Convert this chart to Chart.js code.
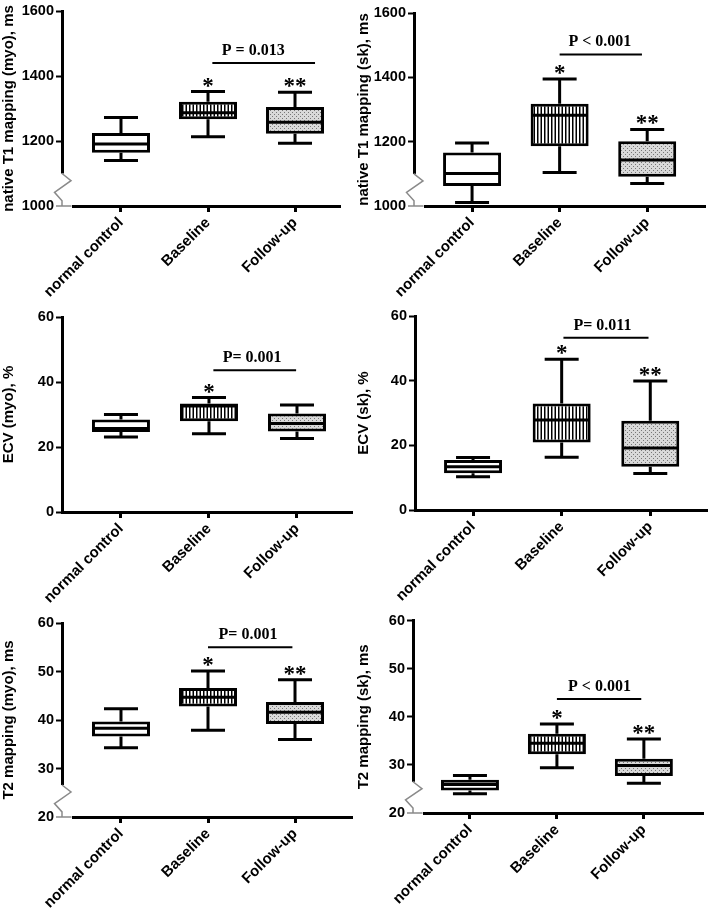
<!DOCTYPE html>
<html>
<head>
<meta charset="utf-8">
<script src="https://cdn.jsdelivr.net/npm/chart.js@4.4.0/dist/chart.umd.min.js"></script>
<style>
  html, body { margin: 0; padding: 0; background: #fff; }
  #wrap { position: relative; width: 709px; height: 908px; overflow: hidden; }
  .cell { position: absolute; }
</style>
</head>
<body>
<div id="wrap"></div>
<script>
// categories shared by all six panels
const categories = ['normal control', 'Baseline', 'Follow-up'];

// box stats per group: [min, q1, median, q3, max]
const t1MyoStats = [[1140, 1164, 1191, 1225, 1272], [1213, 1267, 1287, 1321, 1352], [1193, 1222, 1258, 1305, 1350]];
const t1SkStats = [[1011, 1062, 1101, 1166, 1196], [1104, 1186, 1282, 1318, 1395], [1070, 1091, 1143, 1201, 1238]];
const ecvMyoStats = [[23.1, 24.6, 25.7, 28.5, 30.0], [24.1, 27.9, 32.6, 33.4, 35.2], [22.6, 24.8, 27.2, 30.3, 32.9]];
const ecvSkStats = [[10.3, 11.4, 13.4, 15.5, 16.2], [16.3, 20.9, 27.8, 32.9, 46.6], [11.3, 13.4, 19.2, 27.6, 39.9]];
const t2MyoStats = [[34.3, 36.6, 38.3, 39.7, 42.3], [37.9, 42.8, 44.7, 46.6, 50.1], [36.0, 39.2, 41.6, 43.7, 48.3]];
const t2SkStats = [[24.0, 24.7, 25.95, 26.9, 27.8], [29.4, 32.2, 34.5, 36.5, 38.5], [26.2, 27.7, 29.9, 31.3, 35.4]];

// axis titles and tick ranges [min, max, step]
const yTitles = ['native T1 mapping (myo), ms', 'native T1 mapping (sk), ms', 'ECV (myo), %', 'ECV (sk), %', 'T2 mapping (myo), ms', 'T2 mapping (sk), ms'];
const yRanges = [[1000, 1600, 200], [1000, 1600, 200], [0, 60, 20], [0, 60, 20], [20, 60, 10], [20, 60, 10]];
const yBreaks = [1100, 1100, null, null, 26.6, 26.5]; // value where the axis break starts

// comparison brackets (Baseline vs Follow-up)
const pLabels = ['P = 0.013', 'P < 0.001', 'P= 0.001', 'P= 0.011', 'P= 0.001', 'P < 0.001'];
const pLevels = [1440, 1471, 43.6, 53.3, 55.0, 43.7];
const pSpans = [[2.05, 3.23], [2.0, 2.94], [2.05, 2.99], [2.02, 2.98], [2.0, 2.97], [2.0, 2.97]];
const pTextX = [2.52, 2.46, 2.49, 2.46, 2.46, 2.49];
const starMarks = [['', '*', '**'], ['', '*', '**'], ['', '*', ''], ['', '*', '**'], ['', '*', '**'], ['', '*', '**']];

const allStats = [t1MyoStats, t1SkStats, ecvMyoStats, ecvSkStats, t2MyoStats, t2SkStats];

// layout of each panel on the page (left, top, width, height) and its plot frame
const frames = [
  { box: [0, 0, 355, 300], yw: 62, top: 11, right: 15, xh: 94, xr: [0.322, 3.517] },
  { box: [355, 0, 354, 300], yw: 59, top: 13, right: 4, xh: 94, xr: [0.337, 3.66] },
  { box: [0, 300, 355, 310], yw: 62, top: 17, right: 3, xh: 98, xr: [0.33, 3.625] },
  { box: [355, 300, 354, 310], yw: 60, top: 16, right: 2, xh: 100, xr: [0.345, 3.64] },
  { box: [0, 610, 355, 298], yw: 62, top: 13, right: 3, xh: 91, xr: [0.322, 3.655] },
  { box: [355, 610, 354, 298], yw: 58, top: 10, right: 6, xh: 95, xr: [0.345, 3.68] },
];

const SANS = '"Liberation Sans", Arial, sans-serif';
const SERIF = '"Liberation Serif", "Times New Roman", serif';

function makePattern(w, h, paint) {
  const c = document.createElement('canvas'); c.width = w; c.height = h;
  const g = c.getContext('2d'); paint(g);
  return g.createPattern(c, 'repeat');
}
const stripes = makePattern(7, 8, (g) => {
  g.fillStyle = '#fff'; g.fillRect(0, 0, 7, 8);
  g.fillStyle = '#000'; g.fillRect(0, 0, 1.5, 8); g.fillRect(3.5, 0, 1.5, 8);
});
const dots = makePattern(4, 4, (g) => {
  g.fillStyle = '#d9d9d9'; g.fillRect(0, 0, 4, 4);
  g.fillStyle = '#777'; g.fillRect(0, 0, 1, 1); g.fillRect(2, 2, 1, 1);
});

const boxPlugin = {
  id: 'boxplot',
  beforeDatasetsDraw(chart) {
    const o = chart.options.plugins.boxplot;
    const { ctx } = chart, x = chart.scales.x, y = chart.scales.y;
    ctx.save();
    ctx.strokeStyle = '#000'; ctx.lineWidth = 3;
    o.stats.forEach((s, i) => {
      const cx = x.getPixelForValue(i + 1), hw = o.cap / 2;
      const yMin = y.getPixelForValue(s[0]), yMax = y.getPixelForValue(s[4]);
      ctx.beginPath();
      ctx.moveTo(cx, yMax); ctx.lineTo(cx, y.getPixelForValue(s[3]));
      ctx.moveTo(cx, y.getPixelForValue(s[1])); ctx.lineTo(cx, yMin);
      ctx.moveTo(cx - hw, yMax); ctx.lineTo(cx + hw, yMax);
      ctx.moveTo(cx - hw, yMin); ctx.lineTo(cx + hw, yMin);
      ctx.stroke();
    });
    ctx.restore();
  },
  afterDatasetsDraw(chart) {
    const o = chart.options.plugins.boxplot;
    const { ctx } = chart, x = chart.scales.x, y = chart.scales.y;
    const bars = chart.getDatasetMeta(0).data;
    ctx.save();
    // medians
    ctx.strokeStyle = '#000'; ctx.lineWidth = 3;
    o.stats.forEach((s, i) => {
      const cx = x.getPixelForValue(i + 1), hw = bars[i].width / 2 - 1.5, my = y.getPixelForValue(s[2]);
      ctx.beginPath(); ctx.moveTo(cx - hw, my); ctx.lineTo(cx + hw, my); ctx.stroke();
    });
    // axis break
    if (o.brk != null) {
      const L = chart.chartArea.left, B = chart.chartArea.bottom, T0 = y.getPixelForValue(o.brk), h = B - T0;
      ctx.fillStyle = '#fff';
      ctx.fillRect(L - 6.5, T0, 16.5, h + 2);
      ctx.strokeStyle = '#8a8a8a'; ctx.lineWidth = 1.5;
      ctx.beginPath();
      ctx.moveTo(L, T0); ctx.lineTo(L + 9, T0 + 0.22 * h); ctx.lineTo(L - 7.5, T0 + 0.58 * h);
      ctx.lineTo(L, T0 + 0.84 * h); ctx.lineTo(L, B); ctx.lineTo(L + 9.5, B);
      ctx.moveTo(L - 6, B); ctx.lineTo(L, B);
      ctx.stroke();
    }
    // bracket + P value
    const by = y.getPixelForValue(o.pLevel);
    ctx.strokeStyle = '#000'; ctx.lineWidth = 2;
    ctx.beginPath(); ctx.moveTo(x.getPixelForValue(o.pSpan[0]), by); ctx.lineTo(x.getPixelForValue(o.pSpan[1]), by); ctx.stroke();
    ctx.fillStyle = '#000';
    ctx.font = 'bold 16px ' + SERIF; ctx.textAlign = 'center'; ctx.textBaseline = 'alphabetic';
    ctx.fillText(o.pLabel, x.getPixelForValue(o.pTextX), by - 8);
    // significance stars above whiskers
    ctx.font = 'bold 23px ' + SERIF;
    o.stats.forEach((s, i) => {
      if (!o.stars[i]) return;
      ctx.fillText(o.stars[i], x.getPixelForValue(i + 1), y.getPixelForValue(s[4]) + 1);
    });
    ctx.restore();
  },
};

const wrap = document.getElementById('wrap');
frames.forEach((f, k) => {
  const cell = document.createElement('div');
  cell.className = 'cell';
  cell.style.left = f.box[0] + 'px'; cell.style.top = f.box[1] + 'px';
  const cv = document.createElement('canvas');
  cv.width = f.box[2]; cv.height = f.box[3];
  cell.appendChild(cv); wrap.appendChild(cell);

  const stats = allStats[k];
  const [ymin, ymax, ystep] = yRanges[k];
  new Chart(cv, {
    type: 'bar',
    data: {
      datasets: [{
        data: stats.map((s, i) => ({ x: i + 1, y: [s[1], s[3]] })),
        backgroundColor: ['#fff', stripes, dots],
        borderColor: '#000', borderWidth: 3, borderSkipped: false,
        barThickness: 58, inflateAmount: 0,
      }],
    },
    options: {
      responsive: false, animation: false, devicePixelRatio: 1,
      layout: { padding: { top: f.top, right: f.right, left: 0, bottom: 0 } },
      plugins: {
        legend: { display: false }, tooltip: { enabled: false },
        boxplot: {
          stats, cap: 34, brk: yBreaks[k],
          pLabel: pLabels[k], pLevel: pLevels[k], pSpan: pSpans[k], pTextX: pTextX[k], stars: starMarks[k],
        },
      },
      scales: {
        x: {
          type: 'linear', min: f.xr[0], max: f.xr[1], offset: false,
          afterBuildTicks: (s) => { s.ticks = [1, 2, 3].map((v) => ({ value: v })); },
          afterFit: (s) => { s.height = f.xh; },
          ticks: {
            callback: (v) => categories[v - 1] || '', autoSkip: false, maxRotation: 45, minRotation: 45,
            font: { family: SANS, size: 15, weight: 'bold' }, color: '#000', padding: 2,
          },
          grid: { drawOnChartArea: false, drawTicks: true, tickLength: 6, tickWidth: 3, tickColor: '#000', offset: false },
          border: { color: '#000', width: 3 },
        },
        y: {
          min: ymin, max: ymax,
          afterFit: (s) => { s.width = f.yw; },
          ticks: {
            stepSize: ystep, callback: (v) => String(v),
            font: { family: SANS, size: 14.5, weight: 'bold' }, color: '#000', padding: 2,
          },
          grid: { drawOnChartArea: false, drawTicks: true, tickLength: 6, tickWidth: 2, tickColor: '#000' },
          border: { color: '#000', width: 3 },
          title: { display: true, text: yTitles[k], color: '#000', font: { family: SANS, size: 15, weight: 'bold' }, padding: { top: 0, bottom: 0 } },
        },
      },
    },
    plugins: [boxPlugin],
  });
});
</script>
</body>
</html>
